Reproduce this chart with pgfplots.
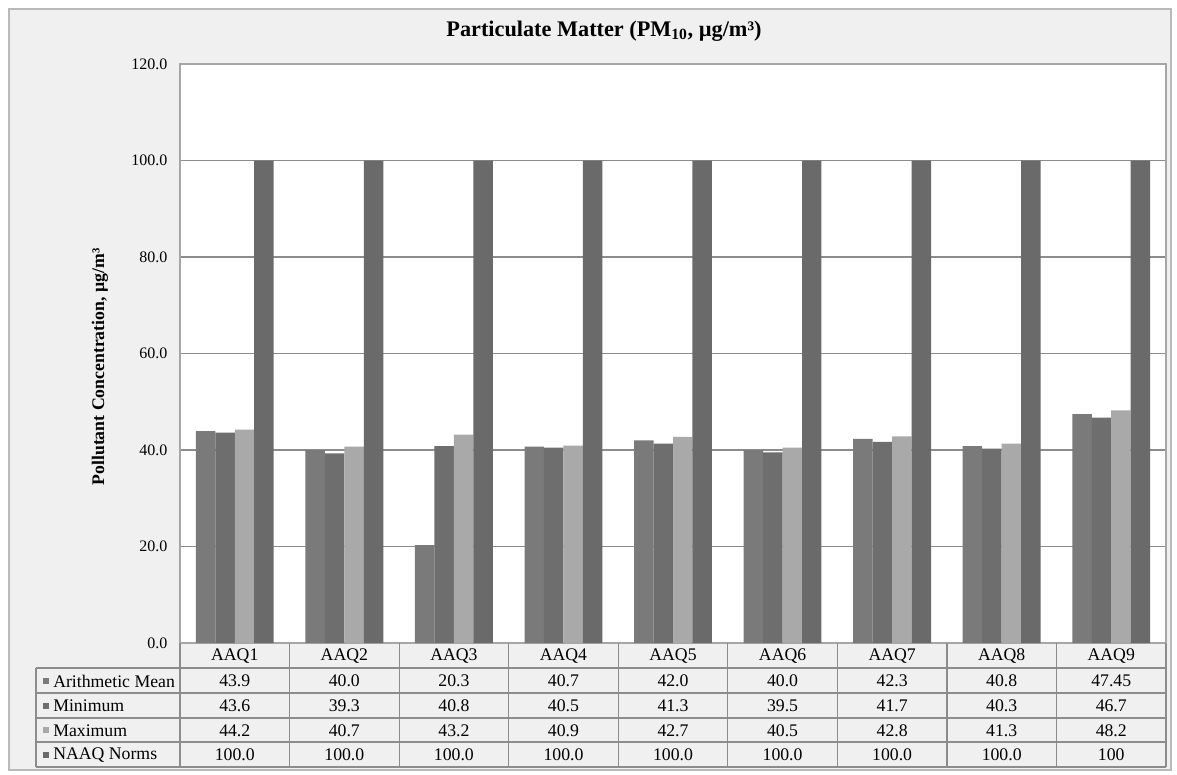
\documentclass[border=0pt]{standalone}
\usepackage{pgfplots}
\pgfplotsset{compat=1.18}
\usepackage{fontspec}
\setmainfont{Liberation Serif}
\definecolor{bgc}{HTML}{F0F0F0}
\definecolor{cmean}{HTML}{7A7A7A}
\definecolor{cmin}{HTML}{6E6E6E}
\definecolor{cmax}{HTML}{A9A9A9}
\definecolor{cnaaq}{HTML}{6A6A6A}
\definecolor{lnc}{HTML}{8C8C8C}
\begin{document}
\begin{tikzpicture}[x=0.75pt,y=-0.75pt]
\fill[white] (0,0) rectangle (1177,774);
\filldraw[fill=bgc, draw=gray!55, line width=1.2pt] (9,9) rectangle (1171,770);
\begin{axis}[
  at={(135pt,-482.25pt)}, anchor=south west,
  scale only axis, width=739.5pt, height=434.25pt,
  xmin=0.5, xmax=9.5, ymin=0, ymax=120,
  ytick={0,20,...,120}, xtick=\empty,
  ymajorgrids, grid style={lnc, line width=0.9pt},
  axis line style={gray!70, line width=0.9pt},
  major tick length=0pt,
  axis background/.style={fill=white},
  ybar=0pt, bar width=14.6pt,
  yticklabel style={/pgf/number format/fixed, /pgf/number format/fixed zerofill, /pgf/number format/precision=1, /pgf/number format/assume math mode=true, xshift=-6pt},
  ticklabel style={font=\fontsize{12}{14}\selectfont},
]
\addplot[fill=cmean, draw=none] coordinates {(1,43.9) (2,40.0) (3,20.3) (4,40.7) (5,42.0) (6,40.0) (7,42.3) (8,40.8) (9,47.45)};
\addplot[fill=cmin, draw=none] coordinates {(1,43.6) (2,39.3) (3,40.8) (4,40.5) (5,41.3) (6,39.5) (7,41.7) (8,40.3) (9,46.7)};
\addplot[fill=cmax, draw=none] coordinates {(1,44.2) (2,40.7) (3,43.2) (4,40.9) (5,42.7) (6,40.5) (7,42.8) (8,41.3) (9,48.2)};
\addplot[fill=cnaaq, draw=none] coordinates {(1,100) (2,100) (3,100) (4,100) (5,100) (6,100) (7,100) (8,100) (9,100)};
\end{axis}
% title and y label
\node[font=\fontsize{16.7}{19}\selectfont\bfseries] at (604,31) {Particulate Matter (PM\textsubscript{10}, µg/m³)};
\node[rotate=90, font=\fontsize{13.3}{15}\selectfont\bfseries] at (100,367) {Pollutant Concentration, µg/m³};
% data table
\begin{scope}[lnc, line width=0.9pt]
\foreach \yy in {668,693,718,742,767} {\draw (36,\yy) -- (1166,\yy);}
\draw (36,668) -- (36,767);
\draw (180,643) -- (180,767);
\foreach \i in {1,...,9} {\draw ({180+109.56*\i},643) -- ({180+109.56*\i},767);}
\end{scope}
\begin{scope}[font=\fontsize{13.3}{15}\selectfont]
\foreach \v [count=\i] in {AAQ1,AAQ2,AAQ3,AAQ4,AAQ5,AAQ6,AAQ7,AAQ8,AAQ9} {\node at ({180+109.56*(\i-0.5)},656) {\v};}
\foreach \v [count=\i] in {43.9,40.0,20.3,40.7,42.0,40.0,42.3,40.8,47.45} {\node at ({180+109.56*(\i-0.5)},681) {\v};}
\foreach \v [count=\i] in {43.6,39.3,40.8,40.5,41.3,39.5,41.7,40.3,46.7} {\node at ({180+109.56*(\i-0.5)},706) {\v};}
\foreach \v [count=\i] in {44.2,40.7,43.2,40.9,42.7,40.5,42.8,41.3,48.2} {\node at ({180+109.56*(\i-0.5)},730.5) {\v};}
\foreach \v [count=\i] in {100.0,100.0,100.0,100.0,100.0,100.0,100.0,100.0,100} {\node at ({180+109.56*(\i-0.5)},755) {\v};}
\fill[cmean] (43,677.5) rectangle (49,683.5);
\fill[cmin] (43,702.5) rectangle (49,708.5);
\fill[cmax] (43,727) rectangle (49,733);
\fill[cnaaq] (43,751.5) rectangle (49,757.5);
\node[anchor=west, inner sep=0pt] at (53,681) {Arithmetic Mean};
\node[anchor=west, inner sep=0pt] at (53,706) {Minimum};
\node[anchor=west, inner sep=0pt] at (53,730.5) {Maximum};
\node[anchor=west, inner sep=0pt] at (53,755) {NAAQ Norms};
\end{scope}
\end{tikzpicture}
\end{document}
